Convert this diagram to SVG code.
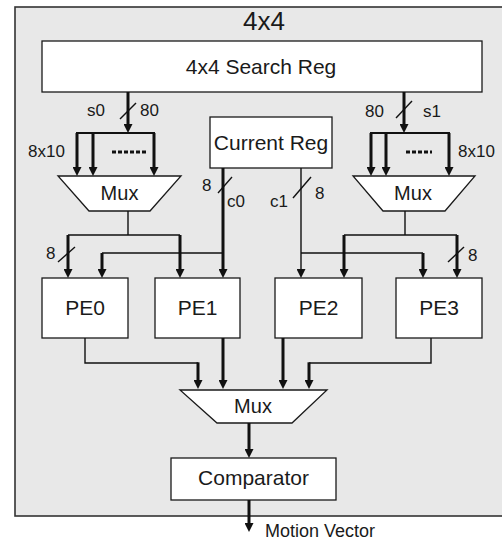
<svg xmlns="http://www.w3.org/2000/svg" width="502" height="543" viewBox="0 0 502 543">
<style>
  text { font-family: "Liberation Sans", Arial, sans-serif; fill: #1a1a1a; }
  .box { fill: #ffffff; stroke: #1a1a1a; stroke-width: 1.3; }
  .big { font-size: 21px; text-anchor: middle; }
  .mux { font-size: 20px; text-anchor: middle; }
  .lbl { font-size: 17px; }
  .thin { fill: none; stroke: #111; stroke-width: 1.4; }
  .bus { fill: none; stroke: #111; stroke-width: 2; }
  .thick { fill: none; stroke: #111; stroke-width: 3; }
  .arr { marker-end: url(#ah); }
  .dots { stroke: #111; stroke-width: 3; stroke-dasharray: 4 2; }
</style>
<defs>
  <marker id="ah" viewBox="0 0 9 9" refX="4" refY="4.5" markerWidth="9" markerHeight="9" markerUnits="userSpaceOnUse" orient="auto">
    <path d="M0,0 L9,4.5 L0,9 z" fill="#111"/>
  </marker>
</defs>
<rect x="0" y="0" width="502" height="543" fill="#ffffff"/>
<g id="frame">
  <rect x="15" y="7" width="500" height="509" fill="#e8e8e8" stroke="#333" stroke-width="1.6"/>
  <text x="264" y="30" font-size="26" text-anchor="middle">4x4</text>
</g>
<g id="search-reg">
  <rect class="box" x="42" y="41" width="440" height="51"/>
  <text class="big" x="261" y="74">4x4 Search Reg</text>
</g>
<g id="current-reg">
  <rect class="box" x="210" y="117" width="122" height="51"/>
  <text class="big" x="271" y="150">Current Reg</text>
</g>
<g id="mux-left">
  <polygon class="box" points="58,176 181,176 150,211 89,211"/>
  <text class="mux" x="119.5" y="200">Mux</text>
</g>
<g id="mux-right">
  <polygon class="box" points="353,176 475,176 445,211 383,211"/>
  <text class="mux" x="413" y="200">Mux</text>
</g>
<g id="pe0">
  <rect class="box" x="42" y="278" width="86" height="60"/>
  <text class="big" x="85" y="315">PE0</text>
</g>
<g id="pe1">
  <rect class="box" x="155" y="278" width="85" height="60"/>
  <text class="big" x="197.5" y="315">PE1</text>
</g>
<g id="pe2">
  <rect class="box" x="275" y="278" width="87" height="60"/>
  <text class="big" x="318.5" y="315">PE2</text>
</g>
<g id="pe3">
  <rect class="box" x="396" y="278" width="86" height="60"/>
  <text class="big" x="439" y="315">PE3</text>
</g>
<g id="mux-bottom">
  <polygon class="box" points="180,390 327,390 292,423 217,423"/>
  <text class="mux" x="253" y="413">Mux</text>
</g>
<g id="comparator">
  <rect class="box" x="171" y="458" width="165" height="42"/>
  <text class="big" x="253.5" y="485">Comparator</text>
</g>
<g id="connectors">
  <!-- left search path -->
  <line class="thick arr" x1="128" y1="92" x2="128" y2="128"/>
  <line class="bus" x1="76" y1="133" x2="155" y2="133"/>
  <line class="thick arr" x1="77" y1="133" x2="77" y2="171"/>
  <line class="thick arr" x1="93" y1="133" x2="93" y2="171"/>
  <line class="thick arr" x1="154" y1="133" x2="154" y2="171"/>
  <line class="dots" x1="112" y1="152" x2="146" y2="152"/>
  <line class="thin" x1="120" y1="119" x2="136" y2="103"/>
  <!-- right search path -->
  <line class="thick arr" x1="404" y1="92" x2="404" y2="128"/>
  <line class="bus" x1="370" y1="133" x2="450" y2="133"/>
  <line class="thick arr" x1="371" y1="133" x2="371" y2="171"/>
  <line class="thick arr" x1="386" y1="133" x2="386" y2="171"/>
  <line class="thick arr" x1="449" y1="133" x2="449" y2="171"/>
  <line class="dots" x1="406" y1="152" x2="432" y2="152"/>
  <line class="thin" x1="396" y1="118" x2="412" y2="101"/>
  <!-- left mux outputs -->
  <polyline class="thin" points="128,211 128,235"/>
  <line class="thin" x1="68" y1="235" x2="180" y2="235"/>
  <line class="thick arr" x1="68" y1="235" x2="68" y2="273"/>
  <line class="thick arr" x1="180" y1="235" x2="180" y2="273"/>
  <line class="thin" x1="58" y1="262" x2="75" y2="247"/>
  <!-- c0 -->
  <line class="thick arr" x1="223" y1="168" x2="223" y2="273"/>
  <line class="thin" x1="102" y1="253" x2="223" y2="253"/>
  <line class="thick arr" x1="102" y1="253" x2="102" y2="273"/>
  <line class="thin" x1="218" y1="193" x2="232" y2="177"/>
  <!-- right mux outputs -->
  <polyline class="thin" points="405,211 405,235"/>
  <line class="thin" x1="344" y1="235" x2="457" y2="235"/>
  <line class="thick arr" x1="344" y1="235" x2="344" y2="273"/>
  <line class="thick arr" x1="457" y1="235" x2="457" y2="273"/>
  <line class="thin" x1="448" y1="262" x2="464" y2="247"/>
  <!-- c1 -->
  <line class="thin arr" x1="301" y1="168" x2="301" y2="273"/>
  <line class="thin" x1="301" y1="253" x2="423" y2="253"/>
  <line class="thick arr" x1="423" y1="253" x2="423" y2="273"/>
  <line class="thin" x1="293" y1="198" x2="311" y2="177"/>
  <!-- PE outputs -->
  <polyline class="thin" points="85,338 85,363 198,363"/>
  <line class="thick arr" x1="198" y1="362.3" x2="198" y2="384"/>
  <line class="thick arr" x1="223" y1="338" x2="223" y2="384"/>
  <line class="thick arr" x1="283" y1="338" x2="283" y2="384"/>
  <polyline class="thin" points="431,338 431,363 309,363"/>
  <line class="thick arr" x1="309" y1="362.3" x2="309" y2="384"/>
  <!-- to comparator and output -->
  <line class="thick arr" x1="249" y1="423" x2="249" y2="453"/>
  <line class="thick arr" x1="249" y1="500" x2="249" y2="527"/>
</g>
<g id="labels">
  <text class="lbl" x="87" y="116">s0</text>
  <text class="lbl" x="140" y="116">80</text>
  <text class="lbl" x="28" y="157">8x10</text>
  <text class="lbl" x="365" y="117">80</text>
  <text class="lbl" x="423" y="117">s1</text>
  <text class="lbl" x="458" y="157">8x10</text>
  <text class="lbl" x="202" y="191">8</text>
  <text class="lbl" x="227" y="207">c0</text>
  <text class="lbl" x="270" y="207">c1</text>
  <text class="lbl" x="315" y="199">8</text>
  <text class="lbl" x="46" y="259">8</text>
  <text class="lbl" x="468" y="261">8</text>
  <text x="265" y="537" font-size="18">Motion Vector</text>
</g>
</svg>
